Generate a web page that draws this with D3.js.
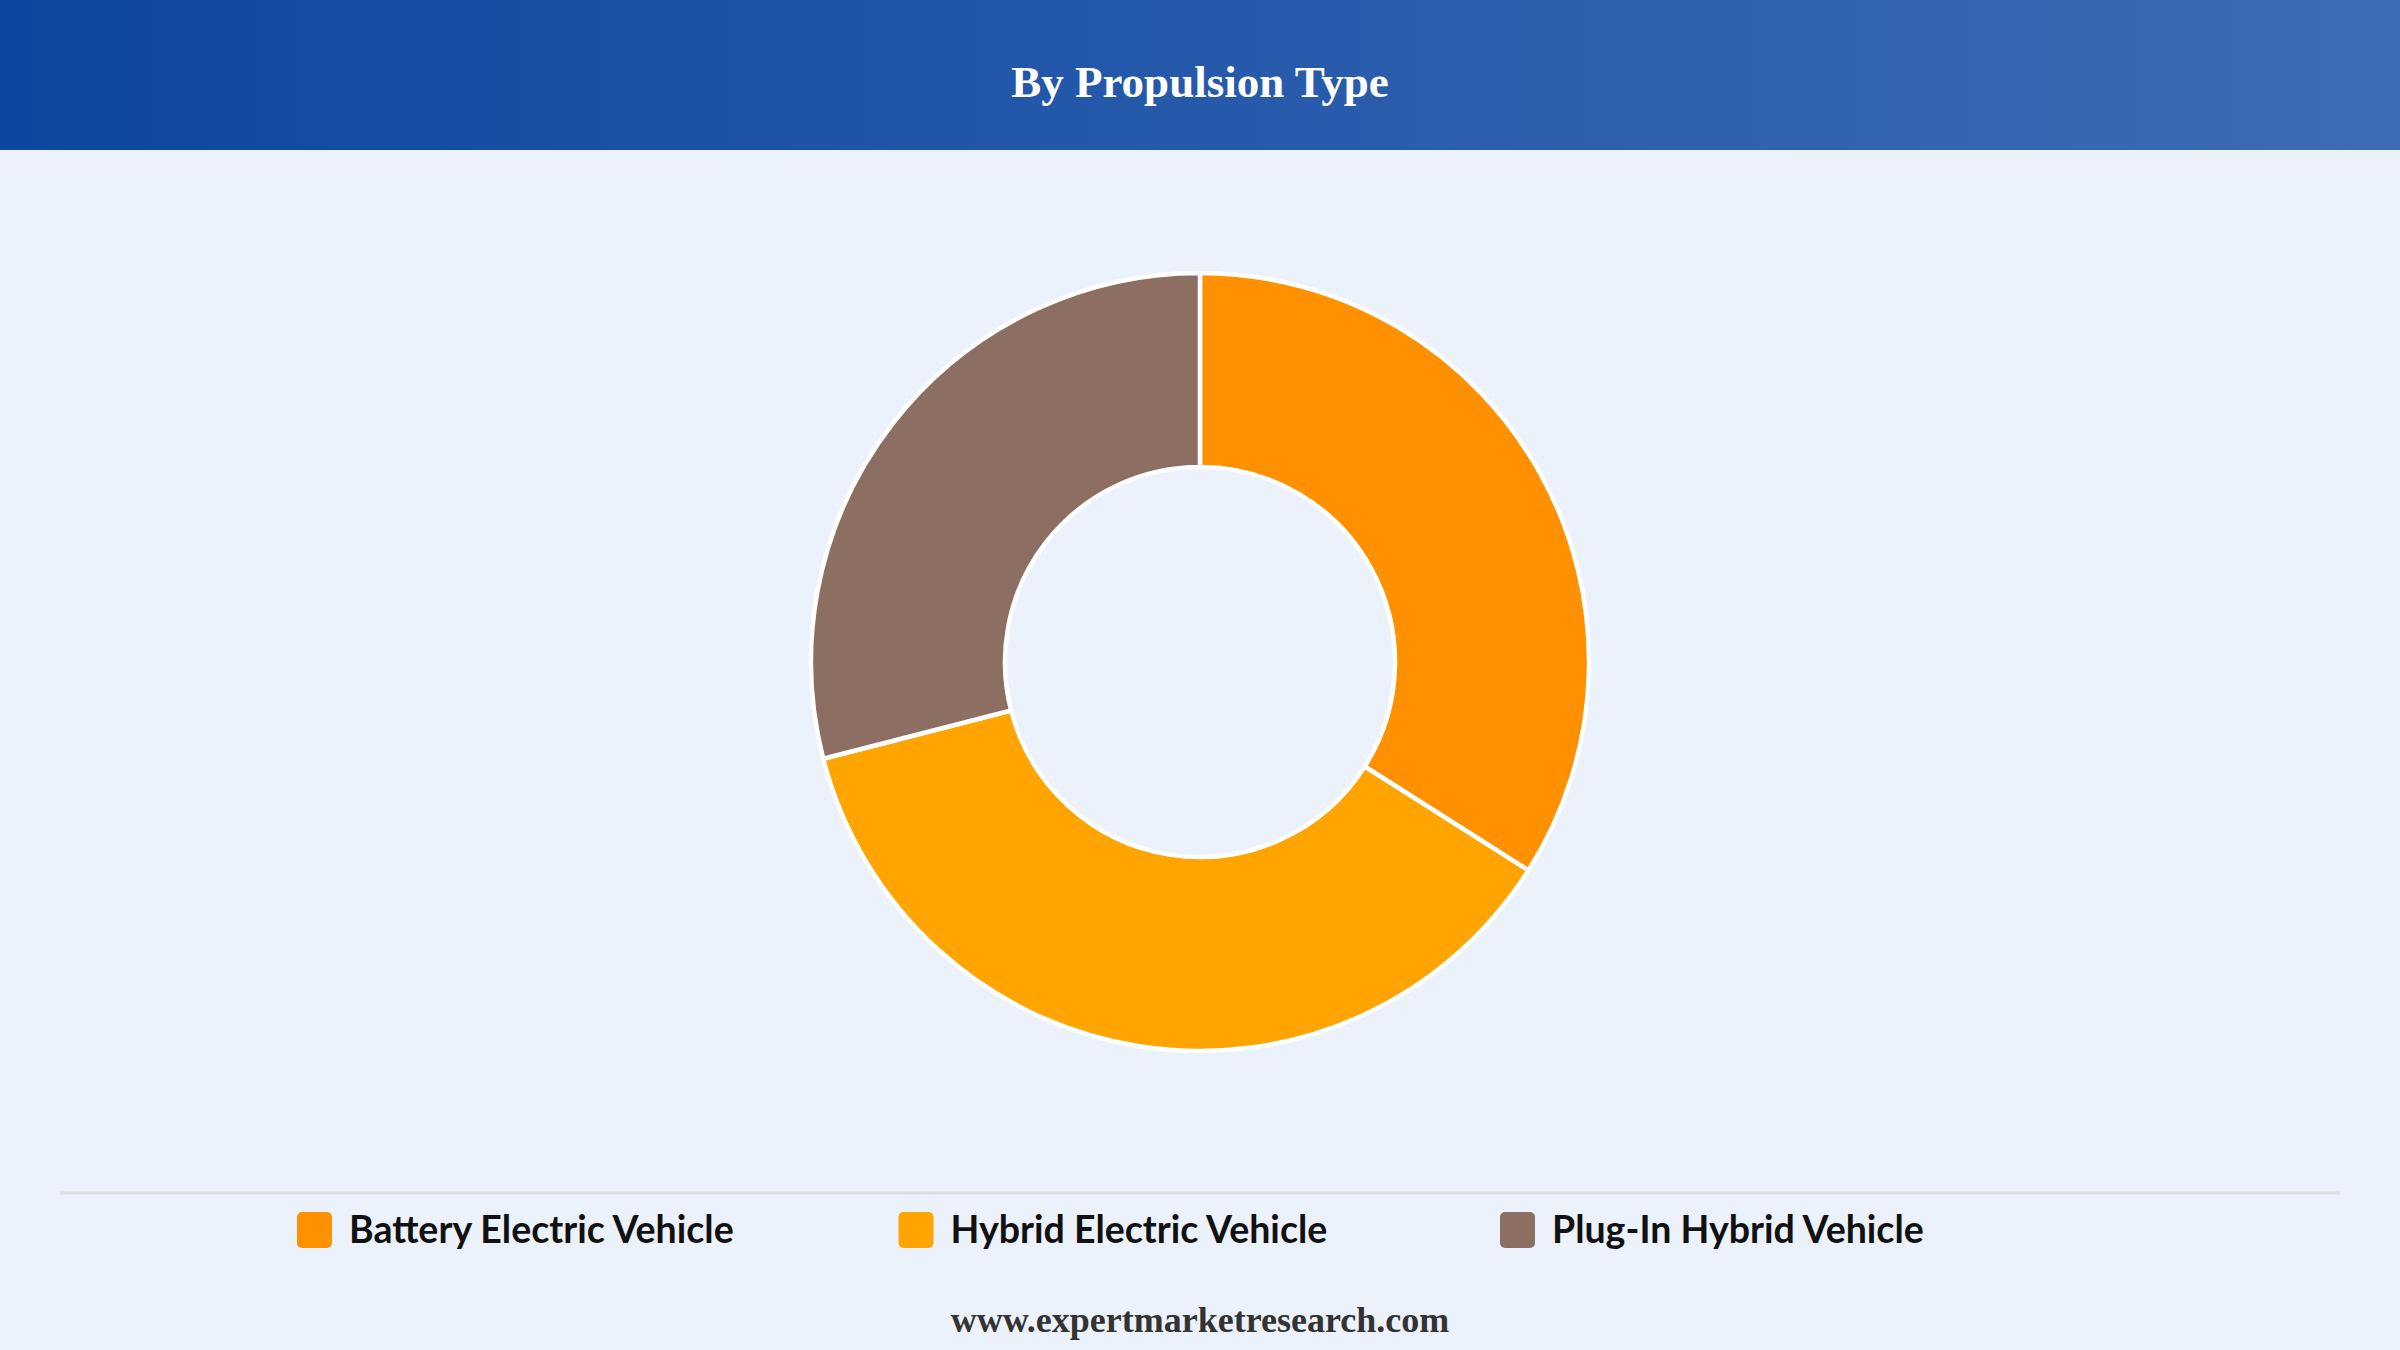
<!DOCTYPE html>
<html>
<head>
<meta charset="utf-8">
<script src="https://cdn.jsdelivr.net/npm/d3@7"></script>
<style>
  html, body { margin: 0; padding: 0; background: #ebf2fb; }
  svg { display: block; }
</style>
</head>
<body>
<svg id="chart" width="2400" height="1350"></svg>
<script>
// data
const categories = ["Battery Electric Vehicle", "Hybrid Electric Vehicle", "Plug-In Hybrid Vehicle"];
const shares = [34, 37, 29];
const colours = ["#ff9100", "#ffa400", "#8d6e63"];

const W = 2400, H = 1350;
const svg = d3.select("#chart");

// background
svg.append("rect").attr("width", W).attr("height", H).attr("fill", "#ebf2fb");

// header band with gradient
let defs = svg.append("defs");
let grad = defs.append("linearGradient").attr("id", "hdr")
    .attr("x1", "0%").attr("x2", "100%").attr("y1", "0%").attr("y2", "0%");
grad.append("stop").attr("offset", "0%").attr("stop-color", "#0d46a0");
grad.append("stop").attr("offset", "100%").attr("stop-color", "#3e6cb4");

svg.append("rect")
    .attr("width", W).attr("height", 150)
    .attr("fill", "url(#hdr)");

svg.append("text")
    .attr("x", W / 2).attr("y", 97)
    .attr("text-anchor", "middle")
    .attr("fill", "#ffffff")
    .style("font-family", "'Liberation Serif', 'Times New Roman', serif")
    .style("font-weight", "bold")
    .style("font-size", "45px")
    .text("By Propulsion Type");

// donut
let pie = d3.pie().sort(null).value(d => d)
    .startAngle(0).endAngle(2 * Math.PI);
let arc = d3.arc().innerRadius(195).outerRadius(389);

let donut = svg.append("g").attr("transform", "translate(1200,662)");
donut.selectAll("path")
    .data(pie(shares))
    .enter()
    .append("path")
    .attr("d", arc)
    .attr("fill", (d, i) => colours[i])
    .attr("stroke", "#ffffff")
    .attr("stroke-width", 4.5)
    .attr("stroke-linejoin", "round");

// separator
svg.append("line")
    .attr("x1", 60).attr("x2", 2340)
    .attr("y1", 1193).attr("y2", 1193)
    .attr("stroke", "#dadde2")
    .attr("stroke-width", 3);

// legend
let lx = d3.scaleLinear().domain([0, categories.length - 1]).range([297, 1500]);
let legend = svg.append("g").selectAll("g")
    .data(categories)
    .enter()
    .append("g")
    .attr("transform", (d, i) => "translate(" + lx(i) + ",1212)");

legend.append("rect")
    .attr("width", 35).attr("height", 36)
    .attr("rx", 5).attr("ry", 5)
    .attr("fill", (d, i) => colours[i]);

legend.append("text")
    .attr("x", 52).attr("y", 31)
    .attr("fill", "#111111")
    .style("font-family", "Lato, 'Open Sans', sans-serif")
    .style("font-weight", "bold")
    .style("font-size", "37.5px")
    .text(d => d);

// footer
svg.append("text")
    .attr("x", W / 2).attr("y", 1332)
    .attr("text-anchor", "middle")
    .attr("fill", "#333333")
    .style("font-family", "'Liberation Serif', 'Times New Roman', serif")
    .style("font-weight", "bold")
    .style("font-size", "36px")
    .text("www.expertmarketresearch.com");
</script>
</body>
</html>
